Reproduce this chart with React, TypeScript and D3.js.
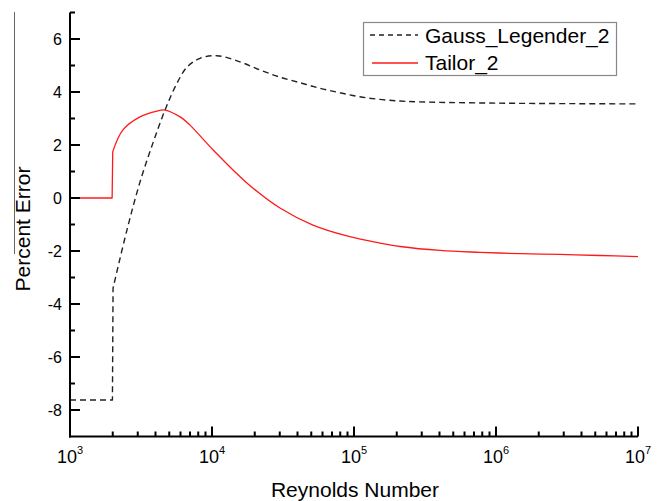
import React from "react";
import * as d3 from "d3";

// Percent error vs Reynolds number
const gaussRe = [1000, 1990, 2010, 2520, 3110, 3840, 4670, 5570, 6670, 8230, 10800, 15700, 21800, 30100, 41700, 57700, 79700, 110000, 152000, 211000, 277000, 1000000, 10000000];
const gaussErr = [-7.62, -7.62, -3.4, -1.2, 0.6, 2.08, 3.32, 4.25, 4.94, 5.27, 5.37, 5.14, 4.83, 4.56, 4.35, 4.14, 3.97, 3.82, 3.72, 3.66, 3.63, 3.58, 3.55];

const tailorRe = [1000, 1980, 2000, 2360, 3110, 4100, 4670, 5960, 7000, 10200, 17600, 30100, 51400, 89300, 152000, 211000, 404000, 771000, 1480000, 2820000, 5400000, 10000000];
const tailorErr = [0, 0, 1.75, 2.57, 3.06, 3.28, 3.32, 3.06, 2.75, 1.81, 0.57, -0.38, -1.02, -1.43, -1.7, -1.83, -1.98, -2.05, -2.1, -2.13, -2.17, -2.21];

const yMajor = [-8, -6, -4, -2, 0, 2, 4, 6];
const yMinor = [-7, -5, -3, -1, 1, 3, 5, 7];
const decades = [3, 4, 5, 6, 7];
const seriesNames = ["Gauss_Legender_2", "Tailor_2"];

const W = 659;
const H = 501;
const font = "Arial, 'Liberation Sans', sans-serif";

export default function App() {
  const left = 70,
    right = 638,
    top = 12.5,
    bottom = 436.5;

  const x = d3.scaleLog().domain([1e3, 1e7]).range([left, right]);
  const y = d3.scaleLinear().domain([-9, 7]).range([bottom, top]);

  // the step before Re=2000 is straight, the rest is a smooth curve
  const stepLine = d3
    .line<[number, number]>()
    .x((d) => x(d[0]))
    .y((d) => y(d[1]));
  const smoothLine = d3
    .line<[number, number]>()
    .x((d) => x(d[0]))
    .y((d) => y(d[1]))
    .curve(d3.curveCatmullRom.alpha(0.5));

  const gaussPts = gaussRe.map((r, i) => [r, gaussErr[i]] as [number, number]);
  const tailorPts = tailorRe.map((r, i) => [r, tailorErr[i]] as [number, number]);

  const gaussPath = (stepLine(gaussPts.slice(0, 3)) as string) + (smoothLine(gaussPts.slice(2)) as string).replace(/^M/, "L");
  const tailorPath = (stepLine(tailorPts.slice(0, 3)) as string) + (smoothLine(tailorPts.slice(2)) as string).replace(/^M/, "L");

  const xMinor: number[] = [];
  decades.slice(0, -1).forEach((p) => {
    for (let k = 2; k <= 9; k++) xMinor.push(k * Math.pow(10, p));
  });

  return (
    <svg
      width={W}
      height={H}
      style={{ position: "absolute", left: 0, top: 0, background: "#fff" }}
      fontFamily={font}
    >
      {/* stray scan line at far left */}
      <line x1={14.5} x2={14.5} y1={12} y2={254} stroke="#666" strokeWidth={1} />

      {/* data */}
      <path d={gaussPath} fill="none" stroke="#222" strokeWidth={1.4} strokeDasharray="6,4" strokeLinejoin="round" />
      <path d={tailorPath} fill="none" stroke="#ff1a1a" strokeWidth={1.3} strokeLinejoin="round" />

      {/* y axis */}
      <line x1={left} x2={left} y1={top} y2={bottom + 1} stroke="#000" strokeWidth={2} />
      {yMajor.map((v) => (
        <g key={"ym" + v}>
          <line x1={left} x2={left + 10} y1={y(v)} y2={y(v)} stroke="#000" strokeWidth={2} />
          <text x={62} y={y(v)} textAnchor="end" dominantBaseline="central" fontSize={16}>
            {v}
          </text>
        </g>
      ))}
      {yMinor.map((v) => (
        <line key={"yn" + v} x1={left} x2={left + 5} y1={y(v)} y2={y(v)} stroke="#000" strokeWidth={2} />
      ))}

      {/* x axis */}
      <line x1={left - 1} x2={right} y1={bottom} y2={bottom} stroke="#000" strokeWidth={2} />
      {decades.map((p) => (
        <g key={"xm" + p}>
          <line x1={x(Math.pow(10, p))} x2={x(Math.pow(10, p))} y1={bottom} y2={bottom - 10} stroke="#000" strokeWidth={2} />
          <text x={x(Math.pow(10, p))} y={463} textAnchor="middle" fontSize={18}>
            10
            <tspan dy={-9} fontSize={11}>
              {p}
            </tspan>
          </text>
        </g>
      ))}
      {xMinor.map((v) => (
        <line key={"xn" + v} x1={x(v)} x2={x(v)} y1={bottom} y2={bottom - 5} stroke="#000" strokeWidth={2} />
      ))}

      {/* axis titles */}
      <text x={355} y={497} textAnchor="middle" fontSize={21}>
        Reynolds Number
      </text>
      <text transform="translate(30,229) rotate(-90)" textAnchor="middle" fontSize={21}>
        Percent Error
      </text>

      {/* legend */}
      <rect x={363.5} y={22.5} width={253} height={53} fill="#fff" stroke="#888" strokeWidth={1.2} />
      <line x1={370} x2={418} y1={35} y2={35} stroke="#222" strokeWidth={1.4} strokeDasharray="5,4" />
      <text x={425} y={43} fontSize={21}>
        {seriesNames[0]}
      </text>
      <line x1={372} x2={418} y1={63} y2={63} stroke="#ff1a1a" strokeWidth={1.3} />
      <text x={425} y={69.5} fontSize={21}>
        {seriesNames[1]}
      </text>
    </svg>
  );
}
